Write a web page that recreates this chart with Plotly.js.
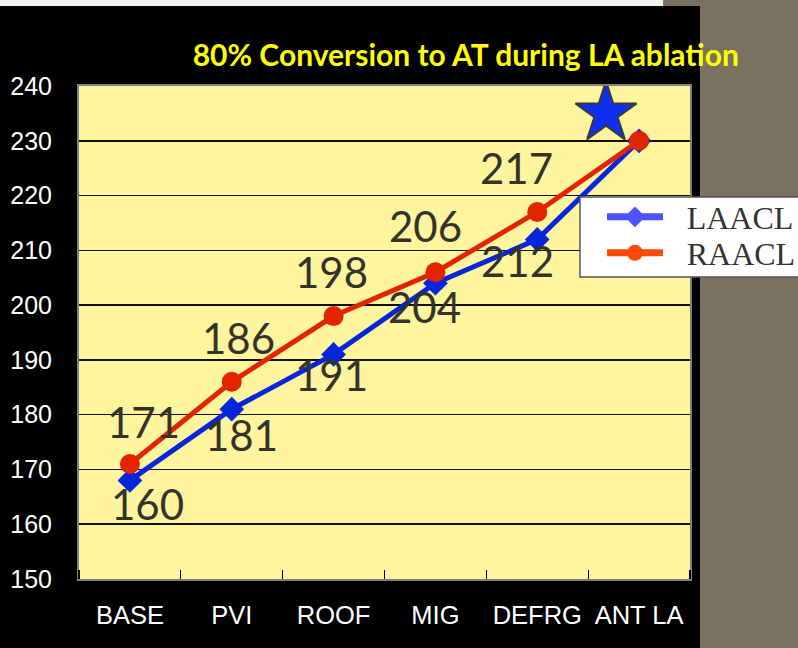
<!DOCTYPE html>
<html>
<head>
<meta charset="utf-8">
<script src="https://cdn.plot.ly/plotly-3.0.1.min.js"></script>
<style>html,body{margin:0;padding:0;background:#000;}#chart{width:798px;height:648px;}</style>
</head>
<body>
<div id="chart"></div>
<script>
// ---- data ----
const categories = ['BASE', 'PVI', 'ROOF', 'MIG', 'DEFRG', 'ANT LA'];
const laaclValues = [168, 181, 191, 204, 212, 230];
const raaclValues = [171, 186, 198, 206, 217, 230];
const laaclLabels = ['160', '181', '191', '204', '212', ''];
const raaclLabels = ['171', '186', '198', '206', '217', ''];
const starCategory = 'ANT LA';
const starValue = 235;
const seriesNames = ['LAACL', 'RAACL'];
const titleText = '80% Conversion to AT during LA ablation';
const yTicks = [150, 160, 170, 180, 190, 200, 210, 220, 230, 240];

// ---- styles ----
const blue = '#0626DC', red = '#E32400';
const legendBlue = '#4A55FF', legendRed = '#FF4A08';
const labelColor = '#34332A';
const laShiftX = [18, 10, -2, -11, -20, 0];
const laShiftY = [-24, -26, -21, -24, -22, 0];
const raShiftX = [14, 7, -2, -10, -21, 0];
const raShiftY = [42, 44, 44, 46, 44, 0];
const starShift = -0.325;
const padName = '\u2002\u200A';

const idx = categories.map((c, i) => i);

const traces = [
  {x: idx, y: laaclValues, type: 'scatter', mode: 'lines+markers', showlegend: false,
   line: {color: blue, width: 5}, marker: {symbol: 'diamond', size: 19, color: blue}},
  {x: idx, y: raaclValues, type: 'scatter', mode: 'lines+markers', showlegend: false,
   line: {color: red, width: 5}, marker: {symbol: 'circle', size: 20, color: red}},
  {x: [categories.indexOf(starCategory) + starShift], y: [starValue], type: 'scatter', mode: 'markers',
   showlegend: false, marker: {symbol: 'star', size: 46, color: '#1030F0', line: {color: '#3a3a30', width: 2}}},
  {x: [null], y: [null], name: padName + seriesNames[0], legend: 'legend', type: 'scatter', mode: 'lines+markers',
   line: {color: legendBlue, width: 7}, marker: {symbol: 'diamond', size: 22, color: legendBlue}},
  {x: [null], y: [null], name: padName + seriesNames[1], legend: 'legend2', type: 'scatter', mode: 'lines+markers',
   line: {color: legendRed, width: 7}, marker: {symbol: 'circle', size: 22, color: legendRed}}
];

const labelFont = {family: 'Lato, "Open Sans", sans-serif', size: 42, color: labelColor};
const annotations = [];
idx.forEach(i => {
  if (laaclLabels[i]) annotations.push({x: i, y: laaclValues[i], text: laaclLabels[i], showarrow: false,
    xshift: laShiftX[i], yshift: laShiftY[i], font: labelFont, xanchor: 'center', yanchor: 'middle'});
  if (raaclLabels[i]) annotations.push({x: i, y: raaclValues[i], text: raaclLabels[i], showarrow: false,
    xshift: raShiftX[i], yshift: raShiftY[i], font: labelFont, xanchor: 'center', yanchor: 'middle'});
});

const legendFont = {family: '"Liberation Serif", "DejaVu Serif", serif', size: 32, color: '#333333'};
const legendBase = {xanchor: 'left', yanchor: 'middle', bgcolor: 'rgba(0,0,0,0)', borderwidth: 0,
                    itemwidth: 56, font: legendFont};

const layout = {
  width: 798, height: 648,
  paper_bgcolor: '#000000', plot_bgcolor: '#FFF59F',
  margin: {l: 79, r: 108, t: 86, b: 69, autoexpand: false},
  title: {text: titleText, font: {family: 'Lato, sans-serif', size: 30, color: '#FFFF00', weight: 'bold'},
          x: 0.633, xref: 'paper', xanchor: 'center', y: 1 - 55 / 648, yref: 'container', yanchor: 'middle'},
  xaxis: {range: [-0.5, categories.length - 0.5], tickmode: 'array', tickvals: idx, ticktext: categories,
          ticks: '', tickfont: {family: '"Liberation Sans", Arial, sans-serif', size: 25.5, color: '#FFFFFF'},
          ticklabelstandoff: 12, showgrid: false, zeroline: false,
          showline: true, mirror: true, linecolor: '#808080', linewidth: 2,
          minor: {tickmode: 'linear', tick0: 0.5, dtick: 1, ticks: 'inside', ticklen: 9, tickwidth: 1.2,
                  tickcolor: '#000000', showgrid: false}},
  yaxis: {range: [150, 240], tickmode: 'array', tickvals: yTicks, ticks: '',
          tickfont: {family: '"Liberation Sans", Arial, sans-serif', size: 25, color: '#FFFFFF'},
          ticklabelstandoff: 20, showgrid: true, gridcolor: '#111111', gridwidth: 1.5, zeroline: false,
          showline: true, mirror: true, linecolor: '#808080', linewidth: 2},
  legend: Object.assign({}, legendBase, {x: (602 - 79) / 611, y: (579 - 217) / 493}),
  legend2: Object.assign({}, legendBase, {x: (602 - 79) / 611, y: (579 - 253) / 493}),
  shapes: [
    {type: 'rect', xref: 'paper', yref: 'paper', x0: (700 - 79) / 611, x1: 1.3, y0: -0.3, y1: 1.3,
     fillcolor: '#7A7260', line: {width: 0}, layer: 'below'},
    {type: 'rect', xref: 'paper', yref: 'paper', x0: -0.3, x1: (663 - 79) / 611, y0: (579 - 6) / 493, y1: 1.3,
     fillcolor: '#F2F2F2', line: {width: 0}, layer: 'below'},
    {type: 'rect', xref: 'paper', yref: 'paper', x0: (663 - 79) / 611, x1: 1.3, y0: (579 - 6) / 493, y1: 1.3,
     fillcolor: '#7A7260', line: {width: 0}, layer: 'below'},
    {type: 'rect', xref: 'paper', yref: 'paper', x0: (580 - 79) / 611, x1: 1.3, y0: (579 - 277) / 493, y1: (579 - 197) / 493,
     fillcolor: '#FFFFFF', line: {color: '#555555', width: 1.5}, layer: 'above'}
  ],
  annotations: annotations
};

Plotly.newPlot('chart', traces, layout, {displayModeBar: false, staticPlot: true});
</script>
</body>
</html>
